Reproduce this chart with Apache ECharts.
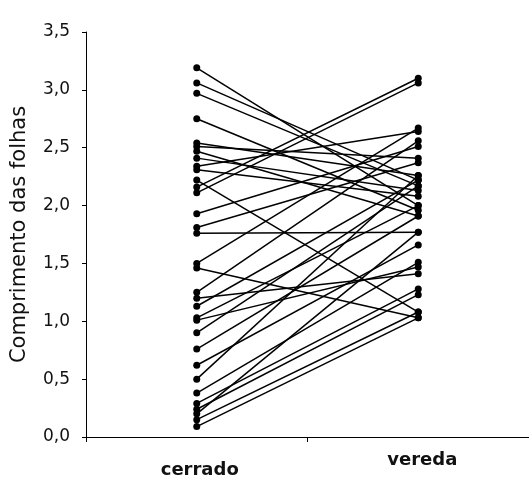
<!DOCTYPE html>
<html>
<head>
<meta charset="utf-8">
<script src="https://cdn.jsdelivr.net/npm/echarts@6/dist/echarts.min.js"></script>
<style>html,body{margin:0;padding:0;background:#fff}#c{width:529px;height:483px}</style>
</head>
<body>
<div id="c"></div>
<script>
var categories = ['cerrado', 'vereda'];
var yTicks = [0, 0.5, 1.0, 1.5, 2.0, 2.5, 3.0, 3.5];
// paired values (each index is one individual)
var cerrado = [3.19, 3.06, 2.97, 2.75, 2.54, 2.51, 2.47, 2.41, 2.34, 2.31, 2.22, 2.16, 2.11,
  1.93, 1.81, 1.76, 1.50, 1.46, 1.25, 1.20, 1.13, 1.03, 1.01, 0.90, 0.76, 0.62, 0.50,
  0.38, 0.29, 0.24, 0.20, 0.15, 0.09];
var vereda = [2.00, 2.22, 2.17, 1.96, 2.26, 2.41, 1.91, 2.13, 2.64, 2.08, 1.08, 3.10, 3.06,
  2.51, 2.37, 1.77, 2.67, 1.03, 2.56, 1.41, 2.22, 2.00, 1.47, 2.17, 1.91, 1.66, 2.26,
  1.51, 1.28, 1.23, 1.77, 1.08, 1.03];

var series = cerrado.map(function (v, i) {
  return {
    type: 'line',
    data: [v, vereda[i]],
    symbol: 'circle',
    symbolSize: 7,
    lineStyle: { color: '#000', width: 1.5 },
    itemStyle: { color: '#000' },
    animation: false,
    silent: true
  };
});

var chart = echarts.init(document.getElementById('c'));
chart.setOption({
  backgroundColor: '#fff',
  grid: { left: 86, right: 0, top: 32, bottom: 46, containLabel: false },
  xAxis: {
    type: 'category',
    data: [
      { value: categories[0], textStyle: { padding: [10, 0, 0, 6] } },
      { value: categories[1], textStyle: { padding: [0, 0, 0, 8] } }
    ],
    boundaryGap: true,
    axisLine: { lineStyle: { color: '#000', width: 1 } },
    axisTick: { show: true, length: 5, inside: false, lineStyle: { color: '#000' } },
    axisLabel: {
      margin: 14,
      fontFamily: 'DejaVu Sans',
      fontWeight: 'bold',
      fontSize: 18,
      color: '#111'
    },
    splitLine: { show: false }
  },
  yAxis: {
    type: 'value',
    min: yTicks[0],
    max: yTicks[yTicks.length - 1],
    interval: 0.5,
    name: 'Comprimento das folhas',
    nameLocation: 'middle',
    nameGap: 56,
    nameTextStyle: { fontFamily: 'DejaVu Sans', fontSize: 21, color: '#111' },
    axisLine: { show: true, lineStyle: { color: '#000', width: 1 } },
    axisTick: { show: true, length: 4, lineStyle: { color: '#000' } },
    axisLabel: {
      margin: 16,
      fontFamily: 'DejaVu Sans',
      fontSize: 17,
      color: '#111',
      formatter: function (v) { return v.toFixed(1).replace('.', ','); }
    },
    splitLine: { show: false }
  },
  series: series
});
</script>
</body>
</html>
